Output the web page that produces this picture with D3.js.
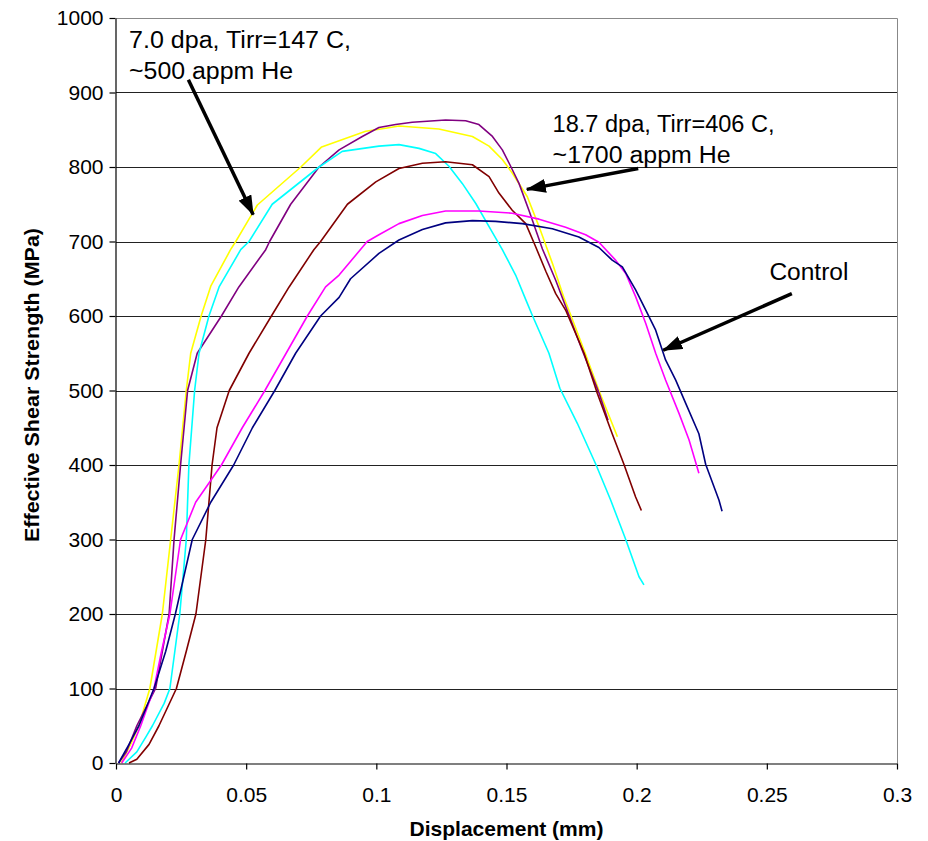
<!DOCTYPE html>
<html>
<head>
<meta charset="utf-8">
<script src="https://cdn.jsdelivr.net/npm/d3@7"></script>
<style>
  body { margin: 0; background: #fff; }
  svg text { font-family: "Liberation Sans", Arial, sans-serif; }
</style>
</head>
<body>
<svg id="chart"></svg>
<script>
// displacement (mm), effective shear strength (MPa)
var yellow = [[0.002,0],[0.0056,25],[0.0088,50],[0.013,100],[0.0178,200],[0.021,300],[0.0242,400],[0.027,500],[0.0287,550],[0.0327,600],[0.0364,640],[0.044,689],[0.046,700],[0.0543,749],[0.071,800],[0.079,827],[0.0959,848],[0.1036,852],[0.1087,855],[0.124,851],[0.1369,841],[0.1433,828],[0.1484,810],[0.1522,792],[0.158,760],[0.1625,720],[0.1676,671],[0.172,625],[0.1747,601],[0.1798,554],[0.1855,500],[0.1926,438]];
var purple = [[0.001,0],[0.004,15],[0.008,50],[0.0152,100],[0.0178,150],[0.0204,200],[0.0223,300],[0.0248,400],[0.0275,500],[0.0312,550],[0.0405,600],[0.0472,639],[0.0575,689],[0.059,700],[0.0671,750],[0.078,800],[0.0857,823],[0.0946,841],[0.101,853],[0.1074,857],[0.1138,860],[0.1266,863],[0.1343,862],[0.1394,857],[0.1446,841],[0.1484,823],[0.1516,801],[0.1548,778],[0.1586,742],[0.1638,690],[0.1689,648],[0.174,601],[0.1791,554],[0.1855,497],[0.189,460]];
var cyan = [[0.0035,0],[0.008,15],[0.0115,35],[0.014,50],[0.0185,80],[0.0207,100],[0.0245,200],[0.027,300],[0.028,400],[0.0302,500],[0.0319,550],[0.0357,600],[0.0396,639],[0.0479,689],[0.0511,700],[0.06,750],[0.078,800],[0.0869,821],[0.101,828],[0.1087,830],[0.1164,825],[0.1228,818],[0.1279,801],[0.133,778],[0.1382,751],[0.1433,720],[0.1484,689],[0.1535,655],[0.1574,622],[0.1599,601],[0.1663,550],[0.1705,503],[0.1772,456],[0.1843,401],[0.19,353],[0.1958,300],[0.2009,250],[0.2028,239]];
var maroon = [[0.005,0],[0.008,5],[0.0127,25],[0.0165,50],[0.0232,100],[0.027,150],[0.0307,200],[0.0345,300],[0.0369,400],[0.0388,450],[0.0435,500],[0.0511,550],[0.0597,600],[0.0665,639],[0.076,689],[0.0786,700],[0.0889,750],[0.0998,780],[0.1087,798],[0.1177,805],[0.1266,807],[0.1369,803],[0.1433,787],[0.1471,765],[0.1522,742],[0.1574,724],[0.1612,693],[0.1651,660],[0.1689,630],[0.1727,608],[0.1798,550],[0.1849,496],[0.1906,442],[0.1951,401],[0.1996,357],[0.2018,339]];
var magenta = [[0.0022,0],[0.006,20],[0.0095,50],[0.0146,100],[0.0175,150],[0.0207,200],[0.0248,300],[0.0306,350],[0.0405,400],[0.0485,450],[0.0572,500],[0.0735,600],[0.0805,639],[0.0857,655],[0.0965,700],[0.101,709],[0.1087,724],[0.1177,735],[0.1266,741],[0.1394,741],[0.1522,738],[0.1625,730],[0.1727,719],[0.1804,709],[0.1855,699],[0.1919,675],[0.1958,657],[0.1996,626],[0.2035,590],[0.2073,550],[0.2111,514],[0.2163,469],[0.2201,434],[0.2239,389]];
var navy = [[0.001,0],[0.005,25],[0.0088,50],[0.0146,100],[0.0191,150],[0.0228,200],[0.0293,300],[0.0364,350],[0.0452,400],[0.0524,450],[0.061,500],[0.069,550],[0.0786,600],[0.0857,625],[0.0901,650],[0.101,684],[0.1087,702],[0.1177,716],[0.1266,725],[0.1369,728],[0.1458,727],[0.1561,724],[0.1676,717],[0.1778,706],[0.1855,692],[0.1906,675],[0.1945,666],[0.1996,635],[0.2035,608],[0.2073,581],[0.2111,541],[0.215,514],[0.2188,483],[0.2239,442],[0.2265,401],[0.2316,353],[0.2328,338]];

var seriesNames = ["yellow", "purple", "cyan", "maroon", "magenta", "navy"];
var seriesColors = ["#ffff00", "#800080", "#00ffff", "#800000", "#ff00ff", "#000080"];
var seriesData = [yellow, purple, cyan, maroon, magenta, navy];

var xTicks = [0, 0.05, 0.1, 0.15, 0.2, 0.25, 0.3];
var yTicks = [0, 100, 200, 300, 400, 500, 600, 700, 800, 900, 1000];

// annotations: text lines at [x, y] in data units, arrows [from, to]
var notes = [
  {lines: ["7.0 dpa, Tirr=147 C,", "~500 appm He"], len: [222, 164], at: [0.005, 960], arrow: [[0.0278, 917], [0.0527, 736]]},
  {lines: ["18.7 dpa, Tirr=406 C,", "~1700 appm He"], len: [222, 178], at: [0.1677, 847], arrow: [[0.2006, 798], [0.1578, 770]]},
  {lines: ["Control"], len: [79], at: [0.251, 648], arrow: [[0.2596, 630], [0.2102, 554]]}
];

var W = 928, H = 841;
var m = {left: 116, right: 897, top: 18, bottom: 763};

var svg = d3.select("#chart").attr("width", W).attr("height", H);

var x = d3.scaleLinear().domain([0, 0.3]).range([m.left, m.right]);
var y = d3.scaleLinear().domain([0, 1000]).range([m.bottom, m.top]);

// grid
svg.append("g")
  .selectAll("line")
  .data(yTicks.filter(function(t){ return t > 0 && t < 1000; }))
  .enter().append("line")
  .attr("x1", m.left).attr("x2", m.right)
  .attr("y1", function(d){ return Math.round(y(d)) + 0.5; })
  .attr("y2", function(d){ return Math.round(y(d)) + 0.5; })
  .attr("stroke", "#222").attr("stroke-width", 1);

// plot frame top / right
svg.append("path")
  .attr("d", "M" + m.left + "," + (m.top + 0.5) + "H" + (m.right + 0.5) + "V" + m.bottom)
  .attr("fill", "none").attr("stroke", "#888").attr("stroke-width", 1);

// curves
var line = d3.line()
  .x(function(d){ return x(d[0]); })
  .y(function(d){ return y(d[1]); });

svg.append("g")
  .selectAll("path")
  .data(seriesData)
  .enter().append("path")
  .attr("class", function(d, i){ return "serie " + seriesNames[i]; })
  .attr("d", line)
  .attr("fill", "none")
  .attr("stroke", function(d, i){ return seriesColors[i]; })
  .attr("stroke-width", 1.6)
  .attr("stroke-linejoin", "round");

// axes
var xAxis = svg.append("g")
  .attr("transform", "translate(0," + (m.bottom + 0.5) + ")")
  .call(d3.axisBottom(x).tickValues(xTicks).tickFormat(d3.format("")).tickSize(6).tickPadding(18).tickSizeOuter(0));
var yAxis = svg.append("g")
  .attr("transform", "translate(" + (m.left - 0.5) + ",0)")
  .call(d3.axisLeft(y).tickValues(yTicks).tickFormat(d3.format("d")).tickSize(6).tickPadding(6).tickSizeOuter(0));

[xAxis, yAxis].forEach(function(a) {
  a.selectAll("path, line").attr("stroke", "#000").attr("stroke-width", 1.2);
  a.selectAll("text").attr("fill", "#000").style("font-size", "21px")
    .style("font-family", "'Liberation Sans', Arial, sans-serif");
});

// axis titles
svg.append("text")
  .attr("x", (m.left + m.right) / 2).attr("y", 836)
  .attr("text-anchor", "middle")
  .attr("textLength", 194).attr("lengthAdjust", "spacingAndGlyphs")
  .style("font-size", "21px").style("font-weight", "bold")
  .text("Displacement (mm)");

svg.append("text")
  .attr("transform", "translate(39," + 385 + ") rotate(-90)")
  .attr("text-anchor", "middle")
  .attr("textLength", 314).attr("lengthAdjust", "spacingAndGlyphs")
  .style("font-size", "21px").style("font-weight", "bold")
  .text("Effective Shear Strength (MPa)");

// arrows
svg.append("defs").append("marker")
  .attr("id", "head")
  .attr("markerUnits", "userSpaceOnUse")
  .attr("viewBox", "0 0 20 14")
  .attr("refX", 19).attr("refY", 7)
  .attr("markerWidth", 20).attr("markerHeight", 14)
  .attr("orient", "auto")
  .append("path").attr("d", "M0,0L20,7L0,14Z").attr("fill", "#000");

var ann = svg.append("g");
notes.forEach(function(n) {
  ann.append("line")
    .attr("x1", x(n.arrow[0][0])).attr("y1", y(n.arrow[0][1]))
    .attr("x2", x(n.arrow[1][0])).attr("y2", y(n.arrow[1][1]))
    .attr("stroke", "#000").attr("stroke-width", 3.5)
    .attr("marker-end", "url(#head)");
  n.lines.forEach(function(s, i) {
    ann.append("text")
      .attr("x", x(n.at[0])).attr("y", y(n.at[1]) + i * 31)
      .attr("textLength", n.len[i]).attr("lengthAdjust", "spacingAndGlyphs")
      .style("font-size", "23px").attr("fill", "#000")
      .text(s);
  });
});
</script>
</body>
</html>
